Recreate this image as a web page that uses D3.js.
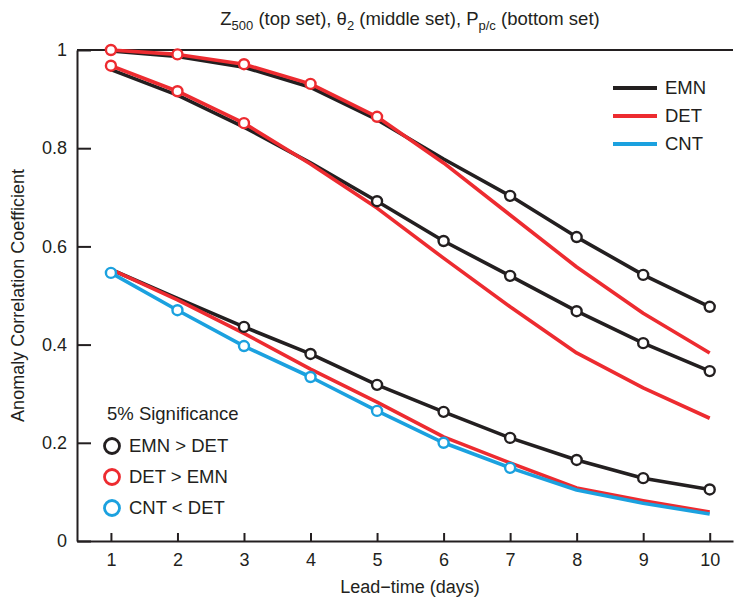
<!DOCTYPE html>
<html>
<head>
<meta charset="utf-8">
<script src="https://cdn.jsdelivr.net/npm/d3@7/dist/d3.min.js"></script>
<style>
  body { margin: 0; background: #fff; }
  text { font-family: "Liberation Sans", Arial, sans-serif; fill: #231f20; }
</style>
</head>
<body>
<script>
var days = [1, 2, 3, 4, 5, 6, 7, 8, 9, 10];

// Z500 (top set)
var z500_emn = [0.998, 0.987, 0.965, 0.924, 0.858, 0.778, 0.703, 0.619, 0.542, 0.477];
var z500_det = [1.000, 0.991, 0.971, 0.931, 0.864, 0.770, 0.664, 0.558, 0.464, 0.383];
// theta2 (middle set)
var theta_emn = [0.960, 0.908, 0.843, 0.770, 0.692, 0.611, 0.540, 0.468, 0.403, 0.346];
var theta_det = [0.968, 0.916, 0.851, 0.768, 0.678, 0.576, 0.477, 0.383, 0.312, 0.250];
// Pp/c (bottom set)
var pp_emn = [0.553, 0.494, 0.436, 0.381, 0.318, 0.263, 0.210, 0.165, 0.128, 0.105];
var pp_det = [0.553, 0.491, 0.423, 0.350, 0.283, 0.212, 0.159, 0.108, 0.082, 0.059];
var pp_cnt = [0.546, 0.470, 0.397, 0.334, 0.265, 0.200, 0.149, 0.104, 0.077, 0.055];

// days significant at 5%
var z500_det_sig = [1, 2, 3, 4, 5];
var z500_emn_sig = [7, 8, 9, 10];
var theta_det_sig = [1, 2, 3];
var theta_emn_sig = [5, 6, 7, 8, 9, 10];
var pp_emn_sig = [3, 4, 5, 6, 7, 8, 9, 10];
var pp_cnt_sig = [1, 2, 3, 4, 5, 6, 7];

var yTicks = [0, 0.2, 0.4, 0.6, 0.8, 1];

var colors = {EMN: "#231f20", DET: "#ed2b30", CNT: "#1ba1df"};

var width = 735, height = 597;

var x = d3.scaleLinear().domain([0.49, 10.35]).range([77, 733]);
var y = d3.scaleLinear().domain([0, 1]).range([541, 50]);

var svg = d3.select("body").append("svg")
    .attr("width", width)
    .attr("height", height);

// axes
var xAxis = d3.axisBottom(x)
    .tickValues(days)
    .tickSizeInner(-8)
    .tickSizeOuter(0)
    .tickPadding(12)
    .tickFormat(d3.format("d"));

var yAxis = d3.axisLeft(y)
    .tickValues(yTicks)
    .tickSizeInner(-14)
    .tickSizeOuter(0)
    .tickPadding(10)
    .tickFormat(function(d) { return d == 0 || d == 1 ? String(d) : d.toFixed(1); });

var gx = svg.append("g")
    .attr("transform", "translate(0," + y(0) + ")")
    .call(xAxis);
var gy = svg.append("g")
    .attr("transform", "translate(" + x.range()[0] + ",0)")
    .call(yAxis);

[gx, gy].forEach(function(g) {
    g.selectAll("path, line").attr("stroke", "#231f20").attr("stroke-width", 2);
    g.selectAll("text").attr("font-size", 18).style("font-family", "'Liberation Sans', Arial, sans-serif").attr("fill", "#231f20");
});

// top frame line
svg.append("line")
    .attr("x1", x.range()[0]).attr("x2", x.range()[1])
    .attr("y1", y(1)).attr("y2", y(1))
    .attr("stroke", "#231f20").attr("stroke-width", 2);

// lines
var line = d3.line()
    .x(function(d, i) { return x(days[i]); })
    .y(function(d) { return y(d); });

var series = [
    {vals: z500_emn, c: colors.EMN},
    {vals: theta_emn, c: colors.EMN},
    {vals: pp_emn, c: colors.EMN},
    {vals: z500_det, c: colors.DET},
    {vals: theta_det, c: colors.DET},
    {vals: pp_det, c: colors.DET},
    {vals: pp_cnt, c: colors.CNT}
];

svg.append("g")
    .selectAll("path")
    .data(series)
    .enter()
    .append("path")
    .attr("d", function(d) { return line(d.vals); })
    .attr("fill", "none")
    .attr("stroke", function(d) { return d.c; })
    .attr("stroke-width", 3.6)
    .attr("stroke-linejoin", "round");

// significance markers
var markers = [
    {vals: z500_emn, sig: z500_emn_sig, c: colors.EMN},
    {vals: theta_emn, sig: theta_emn_sig, c: colors.EMN},
    {vals: pp_emn, sig: pp_emn_sig, c: colors.EMN},
    {vals: z500_det, sig: z500_det_sig, c: colors.DET},
    {vals: theta_det, sig: theta_det_sig, c: colors.DET},
    {vals: pp_cnt, sig: pp_cnt_sig, c: colors.CNT}
];

var pts = [];
markers.forEach(function(m) {
    m.sig.forEach(function(day) {
        pts.push({day: day, v: m.vals[days.indexOf(day)], c: m.c});
    });
});

svg.append("g")
    .selectAll("circle")
    .data(pts)
    .enter()
    .append("circle")
    .attr("cx", function(d) { return x(d.day); })
    .attr("cy", function(d) { return y(d.v); })
    .attr("r", 5)
    .attr("fill", "#fff")
    .attr("stroke", function(d) { return d.c; })
    .attr("stroke-width", 2.4);

// line legend (top right)
var legNames = ["EMN", "DET", "CNT"];
var leg = svg.append("g").attr("transform", "translate(613,88)");
legNames.forEach(function(n, i) {
    leg.append("line")
        .attr("x1", 0).attr("x2", 44)
        .attr("y1", i * 28).attr("y2", i * 28)
        .attr("stroke", colors[n]).attr("stroke-width", 4);
    leg.append("text")
        .attr("x", 52).attr("y", i * 28)
        .attr("dy", "0.35em")
        .attr("font-size", 18.5)
        .text(n);
});

// significance legend (bottom left)
var sigNames = ["EMN > DET", "DET > EMN", "CNT < DET"];
var sigCols = [colors.EMN, colors.DET, colors.CNT];
var sleg = svg.append("g").attr("transform", "translate(107,414)");
sleg.append("text")
    .attr("x", 0).attr("y", 0)
    .attr("dy", "0.35em")
    .attr("font-size", 18.5)
    .text("5% Significance");
sigNames.forEach(function(n, i) {
    sleg.append("circle")
        .attr("cx", 5).attr("cy", 32 + i * 31)
        .attr("r", 7.5)
        .attr("fill", "#fff")
        .attr("stroke", sigCols[i])
        .attr("stroke-width", 2.8);
    sleg.append("text")
        .attr("x", 22).attr("y", 32 + i * 31)
        .attr("dy", "0.35em")
        .attr("font-size", 18.5)
        .text(n);
});

// title with subscripts
var title = svg.append("text")
    .attr("x", 410).attr("y", 25)
    .attr("text-anchor", "middle")
    .attr("font-size", 18.5);
title.append("tspan").text("Z");
title.append("tspan").attr("font-size", 13).attr("dy", 5).text("500");
title.append("tspan").attr("dy", -5).text(" (top set), \u03B8");
title.append("tspan").attr("font-size", 13).attr("dy", 5).text("2");
title.append("tspan").attr("dy", -5).text(" (middle set), P");
title.append("tspan").attr("font-size", 13).attr("dy", 5).text("p/c");
title.append("tspan").attr("dy", -5).text(" (bottom set)");

// axis labels
svg.append("text")
    .attr("x", 410).attr("y", 593)
    .attr("text-anchor", "middle")
    .attr("font-size", 18)
    .text("Lead\u2212time (days)");

svg.append("text")
    .attr("transform", "translate(24," + y(0.5) + ") rotate(-90)")
    .attr("text-anchor", "middle")
    .attr("font-size", 18)
    .text("Anomaly Correlation Coefficient");
</script>
</body>
</html>
